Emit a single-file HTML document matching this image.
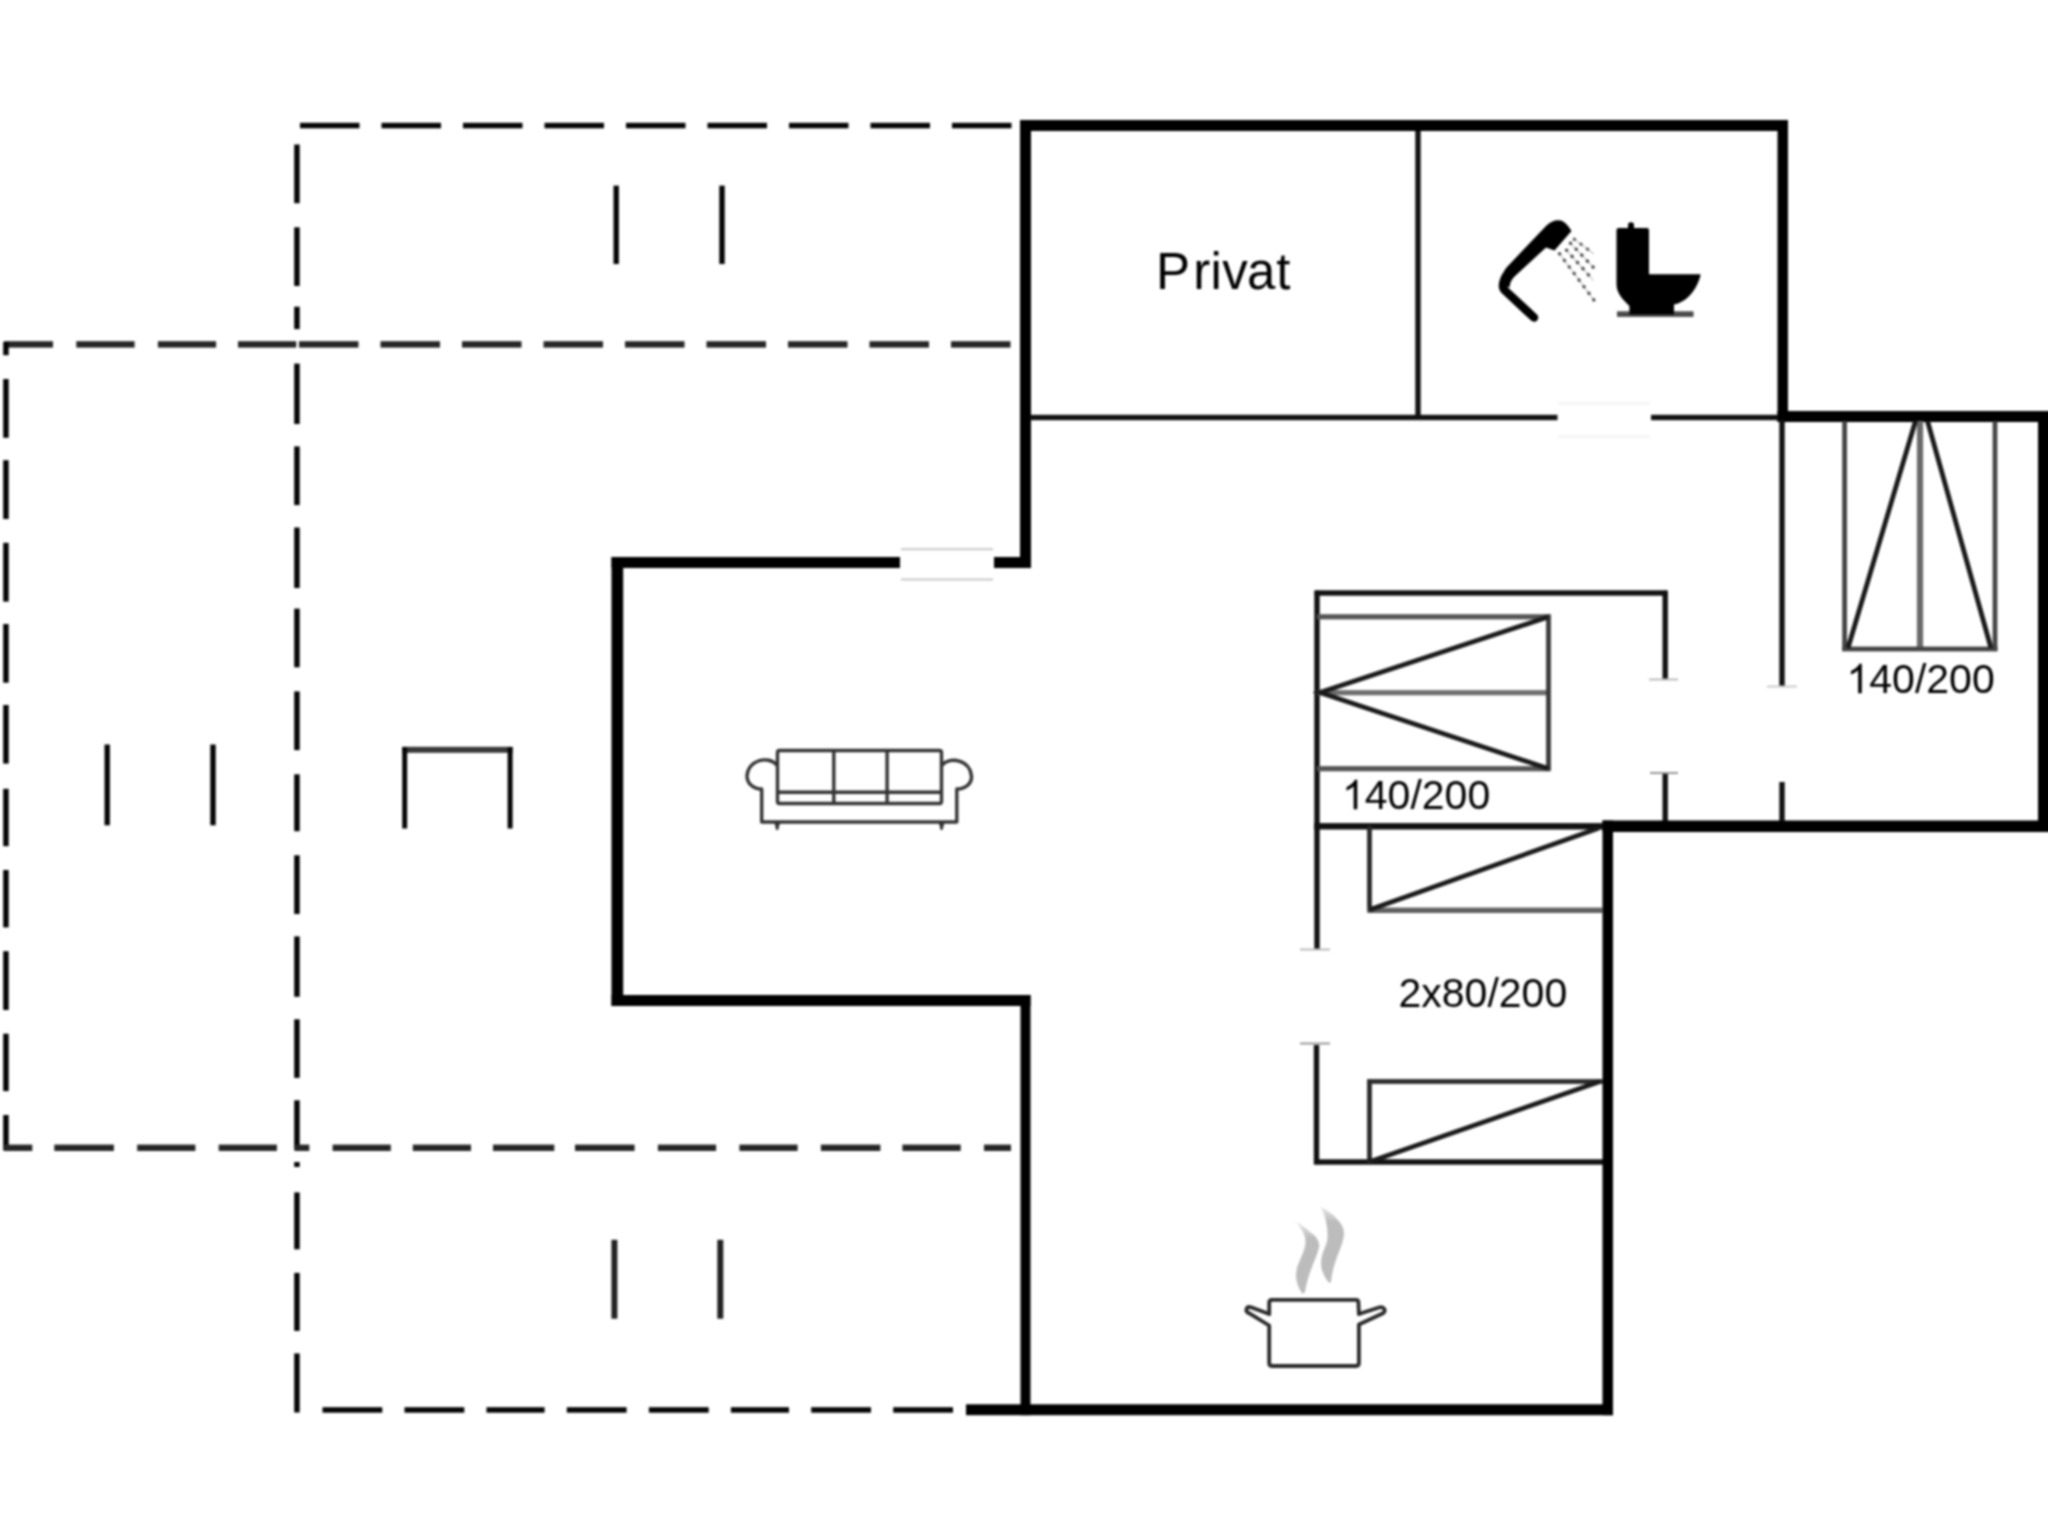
<!DOCTYPE html>
<html><head><meta charset="utf-8"><title>Floor plan</title>
<style>
html,body{margin:0;padding:0;background:#fff;}
body{position:relative;width:2048px;height:1536px;overflow:hidden;font-family:"Liberation Sans",sans-serif;}
svg{display:block;filter:blur(1px);}
</style></head>
<body>
<svg width="2068" height="1556" viewBox="-10 -10 2068 1556" style="position:absolute;left:-10px;top:-10px">
<rect x="-10" y="-10" width="2068" height="1556" fill="#fff"/>
<rect x="300.0" y="122.8" width="59.5" height="5.5" fill="#050505"/>
<rect x="381.5" y="122.8" width="59.5" height="5.5" fill="#050505"/>
<rect x="463.0" y="122.8" width="59.5" height="5.5" fill="#050505"/>
<rect x="544.5" y="122.8" width="59.5" height="5.5" fill="#050505"/>
<rect x="626.0" y="122.8" width="59.5" height="5.5" fill="#050505"/>
<rect x="707.5" y="122.8" width="59.5" height="5.5" fill="#050505"/>
<rect x="789.0" y="122.8" width="59.5" height="5.5" fill="#050505"/>
<rect x="870.5" y="122.8" width="59.5" height="5.5" fill="#050505"/>
<rect x="952.0" y="122.8" width="59.5" height="5.5" fill="#050505"/>
<rect x="4.0" y="341.2" width="49.0" height="6.4" fill="#262626"/>
<rect x="76.3" y="341.2" width="58.3" height="6.4" fill="#262626"/>
<rect x="157.9" y="341.2" width="58.2" height="6.4" fill="#262626"/>
<rect x="238.0" y="341.2" width="58.3" height="6.4" fill="#262626"/>
<rect x="299.0" y="341.2" width="59.5" height="6.4" fill="#262626"/>
<rect x="380.5" y="341.2" width="59.5" height="6.4" fill="#262626"/>
<rect x="462.0" y="341.2" width="59.5" height="6.4" fill="#262626"/>
<rect x="543.5" y="341.2" width="59.5" height="6.4" fill="#262626"/>
<rect x="625.0" y="341.2" width="59.5" height="6.4" fill="#262626"/>
<rect x="706.5" y="341.2" width="59.5" height="6.4" fill="#262626"/>
<rect x="788.0" y="341.2" width="59.5" height="6.4" fill="#262626"/>
<rect x="869.5" y="341.2" width="59.5" height="6.4" fill="#262626"/>
<rect x="951.0" y="341.2" width="59.5" height="6.4" fill="#262626"/>
<rect x="294.2" y="144.5" width="5.5" height="58.7" fill="#050505"/>
<rect x="294.2" y="227.3" width="5.5" height="58.7" fill="#050505"/>
<rect x="294.2" y="306.7" width="5.5" height="22.4" fill="#050505"/>
<rect x="294.2" y="363.6" width="5.5" height="60.4" fill="#050505"/>
<rect x="294.2" y="446.4" width="5.5" height="58.7" fill="#050505"/>
<rect x="294.2" y="527.5" width="5.5" height="60.5" fill="#050505"/>
<rect x="294.2" y="608.6" width="5.5" height="58.7" fill="#050505"/>
<rect x="294.2" y="691.4" width="5.5" height="58.7" fill="#050505"/>
<rect x="294.2" y="774.3" width="5.5" height="56.9" fill="#050505"/>
<rect x="294.2" y="855.3" width="5.5" height="58.7" fill="#050505"/>
<rect x="294.2" y="936.4" width="5.5" height="60.4" fill="#050505"/>
<rect x="294.2" y="1019.3" width="5.5" height="58.6" fill="#050505"/>
<rect x="294.2" y="1100.3" width="5.5" height="49.2" fill="#050505"/>
<rect x="294.2" y="1162.0" width="5.5" height="5.0" fill="#050505"/>
<rect x="294.2" y="1192.4" width="5.5" height="56.9" fill="#050505"/>
<rect x="294.2" y="1272.9" width="5.5" height="58.0" fill="#050505"/>
<rect x="294.2" y="1353.4" width="5.5" height="59.1" fill="#050505"/>
<rect x="3.2" y="342.0" width="5.5" height="13.2" fill="#050505"/>
<rect x="3.2" y="379.0" width="5.5" height="58.8" fill="#050505"/>
<rect x="3.2" y="460.2" width="5.5" height="58.8" fill="#050505"/>
<rect x="3.2" y="542.8" width="5.5" height="58.8" fill="#050505"/>
<rect x="3.2" y="624.0" width="5.5" height="58.7" fill="#050505"/>
<rect x="3.2" y="705.0" width="5.5" height="58.6" fill="#050505"/>
<rect x="3.2" y="788.8" width="5.5" height="57.4" fill="#050505"/>
<rect x="3.2" y="870.0" width="5.5" height="57.4" fill="#050505"/>
<rect x="3.2" y="951.2" width="5.5" height="58.8" fill="#050505"/>
<rect x="3.2" y="1033.7" width="5.5" height="57.4" fill="#050505"/>
<rect x="3.2" y="1115.0" width="5.5" height="35.0" fill="#050505"/>
<rect x="3.5" y="1144.6" width="28.8" height="6.4" fill="#262626"/>
<rect x="54.3" y="1144.6" width="59.6" height="6.4" fill="#262626"/>
<rect x="137.2" y="1144.6" width="58.2" height="6.4" fill="#262626"/>
<rect x="218.7" y="1144.6" width="58.2" height="6.4" fill="#262626"/>
<rect x="294.5" y="1144.6" width="14.8" height="6.4" fill="#262626"/>
<rect x="332.6" y="1144.6" width="58.2" height="6.4" fill="#262626"/>
<rect x="412.8" y="1144.6" width="58.2" height="6.4" fill="#262626"/>
<rect x="493.0" y="1144.6" width="61.3" height="6.4" fill="#262626"/>
<rect x="575.0" y="1144.6" width="59.6" height="6.4" fill="#262626"/>
<rect x="657.9" y="1144.6" width="58.2" height="6.4" fill="#262626"/>
<rect x="739.4" y="1144.6" width="58.2" height="6.4" fill="#262626"/>
<rect x="820.9" y="1144.6" width="59.5" height="6.4" fill="#262626"/>
<rect x="902.4" y="1144.6" width="58.3" height="6.4" fill="#262626"/>
<rect x="984.0" y="1144.6" width="27.0" height="6.4" fill="#262626"/>
<rect x="322.5" y="1407.2" width="59.8" height="5.5" fill="#050505"/>
<rect x="404.5" y="1407.2" width="59.8" height="5.5" fill="#050505"/>
<rect x="486.5" y="1407.2" width="58.1" height="5.5" fill="#050505"/>
<rect x="566.8" y="1407.2" width="59.8" height="5.5" fill="#050505"/>
<rect x="648.9" y="1407.2" width="59.8" height="5.5" fill="#050505"/>
<rect x="730.9" y="1407.2" width="58.1" height="5.5" fill="#050505"/>
<rect x="811.2" y="1407.2" width="59.8" height="5.5" fill="#050505"/>
<rect x="893.2" y="1407.2" width="59.8" height="5.5" fill="#050505"/>
<rect x="613.5" y="185.6" width="5.4" height="78.4" fill="#050505"/>
<rect x="719.3" y="185.6" width="5.4" height="78.4" fill="#050505"/>
<rect x="104.5" y="744.5" width="5.4" height="80.8" fill="#050505"/>
<rect x="210.3" y="744.5" width="5.4" height="80.8" fill="#050505"/>
<rect x="611.4" y="1239.8" width="6.0" height="78.9" fill="#222"/>
<rect x="717.3" y="1239.8" width="6.0" height="78.9" fill="#222"/>
<rect x="402.2" y="746.8" width="110.4" height="6.0" fill="#383838"/>
<rect x="402.2" y="747.0" width="5.0" height="81.5" fill="#050505"/>
<rect x="507.6" y="747.0" width="5.0" height="81.5" fill="#050505"/>
<rect x="1020" y="120" width="768.0" height="11.0" fill="#000"/>
<rect x="1020" y="120" width="11.0" height="448.0" fill="#000"/>
<rect x="1777.5" y="120" width="10.5" height="302.0" fill="#000"/>
<rect x="1777.5" y="411" width="282.5" height="11.0" fill="#000"/>
<rect x="2038" y="411" width="22.0" height="421.0" fill="#000"/>
<rect x="1602.5" y="820.5" width="457.5" height="11.5" fill="#000"/>
<rect x="1602.5" y="820.5" width="10.5" height="594.7" fill="#000"/>
<rect x="966" y="1404.3" width="647.0" height="10.9" fill="#000"/>
<rect x="1020.5" y="995" width="10.0" height="420.2" fill="#000"/>
<rect x="611.5" y="995" width="419.0" height="11.0" fill="#000"/>
<rect x="611.5" y="557" width="11.7" height="449.0" fill="#000"/>
<rect x="611.5" y="557" width="288.5" height="11.0" fill="#000"/>
<rect x="994" y="557" width="37.0" height="11.0" fill="#000"/>
<rect x="901" y="548.2" width="92.0" height="2.0" fill="#c8c8c8"/>
<rect x="901" y="578.5" width="92.0" height="2.0" fill="#c8c8c8"/>
<rect x="1030.0" y="414.8" width="527.5" height="5.4" fill="#111"/>
<rect x="1651.0" y="414.8" width="127.0" height="5.4" fill="#111"/>
<rect x="1415.3" y="131.0" width="5.4" height="286.0" fill="#111"/>
<rect x="1779.3" y="420.0" width="5.4" height="266.5" fill="#111"/>
<rect x="1779.3" y="782.0" width="5.4" height="39.0" fill="#111"/>
<rect x="1314.7" y="590.3" width="352.6" height="5.4" fill="#111"/>
<rect x="1314.3" y="590.7" width="5.4" height="359.3" fill="#111"/>
<rect x="1662.5" y="590.7" width="5.4" height="88.8" fill="#111"/>
<rect x="1662.5" y="773.0" width="5.4" height="48.0" fill="#111"/>
<rect x="1314.0" y="823.1" width="289.0" height="6.4" fill="#111"/>
<rect x="1313.8" y="1045.0" width="5.4" height="119.3" fill="#111"/>
<rect x="1314.2" y="1159.3" width="288.8" height="5.4" fill="#111"/>
<rect x="1649" y="678.5" width="29.0" height="2.0" fill="#bbb"/>
<rect x="1650" y="772" width="28.0" height="2.0" fill="#999"/>
<rect x="1767" y="685.5" width="30.0" height="2.0" fill="#ccc"/>
<rect x="1300" y="948.5" width="30.0" height="2.0" fill="#bbb"/>
<rect x="1300" y="1042.5" width="30.0" height="2.0" fill="#999"/>
<rect x="1558" y="402.5" width="92.0" height="2.0" fill="#f0f0f0"/>
<rect x="1558" y="435.5" width="92.0" height="2.0" fill="#f0f0f0"/>
<rect x="1317.0" y="614.2" width="233.5" height="5.2" fill="#555"/>
<rect x="1317.0" y="690.1" width="231.0" height="5.2" fill="#6e6e6e"/>
<rect x="1317.0" y="766.1" width="233.5" height="5.2" fill="#555"/>
<rect x="1546.1" y="614.4" width="4.8" height="156.4" fill="#3a3a3a"/>
<path d="M1548,617 L1320,692.5 L1548,768.5" fill="none" stroke="#1a1a1a" stroke-width="4.8" stroke-linejoin="miter"/>
<rect x="1842.2" y="421.0" width="4.8" height="230.0" fill="#444"/>
<rect x="1916.9" y="421.0" width="6.2" height="228.0" fill="#6a6a6a"/>
<rect x="1992.6" y="421.0" width="4.8" height="230.0" fill="#444"/>
<rect x="1842.2" y="646.6" width="155.2" height="4.8" fill="#444"/>
<path d="M1848,648 L1915.5,421 M1927.5,421 L1991,648" fill="none" stroke="#1a1a1a" stroke-width="4.8"/>
<rect x="1367.1" y="826.0" width="4.8" height="86.0" fill="#2a2a2a"/>
<rect x="1367.4" y="907.6" width="235.6" height="5.4" fill="#606060"/>
<path d="M1369,910 L1599,828" fill="none" stroke="#1a1a1a" stroke-width="4.8"/>
<rect x="1367.1" y="1079.4" width="4.8" height="83.6" fill="#2a2a2a"/>
<rect x="1367.4" y="1079.1" width="235.6" height="4.8" fill="#2e2e2e"/>
<path d="M1369,1162 L1600,1081.5" fill="none" stroke="#1a1a1a" stroke-width="4.8"/>
<text x="1156 1193.2 1210.6 1222.2 1247 1276.2" y="288.6" font-family="Liberation Sans, sans-serif" font-size="51" fill="#000" >Privat</text>
<path transform="translate(1846.5,693.2) scale(0.02002,-0.02002)" fill="#000" d="M763,0 L583,0 L583,1147 Q518,1085 412,1023 Q306,961 222,930 L222,1104 Q373,1175 486,1276 Q599,1377 646,1472 L763,1472 Z"/>
<text x="1869.30224609375" y="693.2" font-family="Liberation Sans, sans-serif" font-size="41" fill="#000" >40/200</text>
<path transform="translate(1342,809.3) scale(0.02002,-0.02002)" fill="#000" d="M763,0 L583,0 L583,1147 Q518,1085 412,1023 Q306,961 222,930 L222,1104 Q373,1175 486,1276 Q599,1377 646,1472 L763,1472 Z"/>
<text x="1364.80224609375" y="809.3" font-family="Liberation Sans, sans-serif" font-size="41" fill="#000" >40/200</text>
<text x="1398.5" y="1006.8" font-family="Liberation Sans, sans-serif" font-size="41" fill="#000" >2x80/200</text>
<g fill="none" stroke="#333" stroke-width="3.4" stroke-linejoin="round">
<rect x="777.5" y="750.5" width="164" height="53" rx="2"/>
<path d="M833.8,751 V803 M887.1,751 V803 M778,792.2 H941"/>
<path d="M777,765 C768,755 748,760 747,776 C747,784 754,789 761.7,789 V822 H956.8 V789 C965,789 972,784 971.5,776 C970,760 950,756 942,765"/>
<path d="M774.2,822 H780.2 L778.2,830 H776.2 Z M938.6,822 H944.6 L942.6,830 H940.6 Z" fill="#333" stroke="none"/>
</g>
<g fill="none" stroke="#2a2a2a" stroke-width="3.8" stroke-linejoin="round" stroke-linecap="round">
<path d="M1269.2,1314 V1302.5 Q1269.2,1299.8 1272,1299.8 H1356 Q1358.3,1299.8 1358.4,1302 L1358.9,1314"/>
<path d="M1269.2,1314 L1251,1307.3 C1246.5,1305.8 1244.5,1311 1249,1313.2 L1269.2,1325.5 V1363 Q1269.2,1366 1272,1366 H1356 Q1358.9,1366 1358.9,1363 V1324.5 L1382.5,1313.5 C1387,1311 1384,1306 1379,1307.5 L1358.9,1314"/>
</g>
<defs><linearGradient id="sg1" gradientUnits="userSpaceOnUse" x1="0" y1="1221" x2="0" y2="1238"><stop offset="0" stop-color="#ececec"/><stop offset="1" stop-color="#bcbcbc"/></linearGradient><linearGradient id="sg2" gradientUnits="userSpaceOnUse" x1="0" y1="1206" x2="0" y2="1222"><stop offset="0" stop-color="#ececec"/><stop offset="1" stop-color="#bcbcbc"/></linearGradient></defs>
<g>
<path fill="url(#sg1)" d="M1295,1221 C1302,1225 1307,1229 1310,1232 C1316,1236 1320,1241 1319,1247 C1317,1258 1308,1272 1305,1292 L1302.5,1294 C1296,1284 1295,1276 1297,1268 C1300,1258 1306,1250 1305.5,1240 C1305,1234 1300,1226 1295,1221 Z"/>
<path fill="url(#sg2)" d="M1320,1206.5 C1327,1210 1333,1214 1337,1219 C1343,1225 1345,1231 1343.5,1238 C1341,1250 1333,1262 1331,1282 L1329,1283 C1322,1274 1320,1266 1321.5,1258 C1323,1250 1327,1245 1327.5,1238 C1328,1228 1326,1216 1320,1206.5 Z"/>
</g>
<g>
<path d="M1534,317.5 L1505,290.5 Q1502,287.5 1503.5,282 Q1505,276 1511,270.5 L1530,253" fill="none" stroke="#000" stroke-width="8.5" stroke-linecap="round" stroke-linejoin="round"/>
<path d="M1503,274 Q1504,270 1507,267 L1546,226 Q1553,219 1561,220.5 Q1566,222 1571.5,231 L1554.5,250.5 L1546,247.5 L1514.5,276.5 Q1510,281 1509.5,287.5 L1503,284 Z" fill="#000"/>
</g>
<g stroke-width="1.6" stroke="#d4d4d4" fill="none">
<path d="M1574.4,239.3 L1594,254"/><path d="M1570.5,243.2 L1593.5,267.5"/><path d="M1566.6,250.2 L1593.5,280.5"/><path d="M1559.5,253.8 L1595,301.5"/>
</g>
<g stroke-width="3.3" stroke-dasharray="0.1 8.1" stroke-linecap="round" fill="none">
<path d="M1574.4,239.3 L1594,254" stroke="#555"/>
<path d="M1570.5,243.2 L1593.5,267.5" stroke="#444"/>
<path d="M1566.6,250.2 L1593.5,280.5" stroke="#444"/>
<path d="M1559.5,253.8 L1595,301.5" stroke="#444"/>
</g>
<g fill="#000">
<rect x="1617" y="311.3" width="76.5" height="5.6" fill="#4a4a4a"/>
<rect x="1628" y="222.3" width="6" height="8" rx="2.8"/>
<path d="M1616.5,230 Q1616.5,228 1618.5,228 H1647 Q1649,228 1649,230 V274.3 H1700.5 L1700,277.5 C1695,293 1685,302.5 1674,304.5 L1674,314.6 H1629.4 L1629.4,306 C1621,298 1616.5,292 1616.5,284 Z"/>
</g>
</svg>
</body></html>
